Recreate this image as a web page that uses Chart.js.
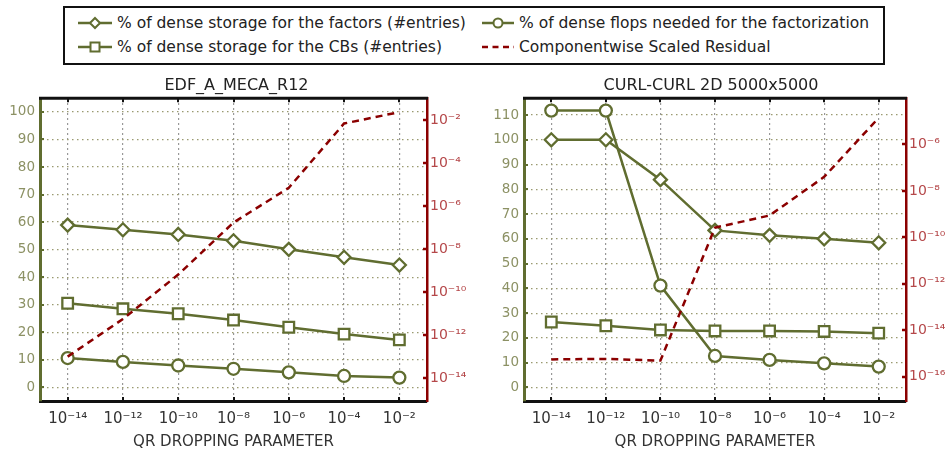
<!DOCTYPE html>
<html>
<head>
<meta charset="utf-8">
<script src="https://cdn.jsdelivr.net/npm/chart.js@4.4.1/dist/chart.umd.min.js"></script>
<style>
  body { margin: 0; background: #fff; width: 946px; height: 451px; position: relative; overflow: hidden; font-family: "DejaVu Sans", sans-serif; }
  #legendBox { position: absolute; left: 63px; top: 6px; width: 818px; height: 55px; border: 2px solid #111; }
  .item { position: absolute; height: 18px; display: flex; align-items: center; font-size: 15.5px; color: #222; white-space: nowrap; }
  .item svg { margin-right: 5px; }
  .wrap { position: absolute; top: 68px; height: 383px; }
</style>
</head>
<body>
<div id="legendBox"></div>
<div class="item" style="left:78px; top:14px">
  <svg width="34" height="14"><line x1="0" y1="7" x2="34" y2="7" stroke="#606d30" stroke-width="2.5"/><polygon points="17,2 22,7 17,12 12,7" fill="#fff" stroke="#606d30" stroke-width="2"/></svg>
  % of dense storage for the factors (#entries)
</div>
<div class="item" style="left:78px; top:38px">
  <svg width="34" height="14"><line x1="0" y1="7" x2="34" y2="7" stroke="#606d30" stroke-width="2.5"/><rect x="12.5" y="2.5" width="9" height="9" fill="#fff" stroke="#606d30" stroke-width="2"/></svg>
  % of dense storage for the CBs (#entries)
</div>
<div class="item" style="left:482px; top:14px">
  <svg width="32" height="14"><line x1="0" y1="7" x2="32" y2="7" stroke="#606d30" stroke-width="2.5"/><circle cx="16" cy="7" r="4.5" fill="#fff" stroke="#606d30" stroke-width="2"/></svg>
  % of dense flops needed for the factorization
</div>
<div class="item" style="left:482px; top:38px">
  <svg width="32" height="14"><line x1="0" y1="7" x2="32" y2="7" stroke="#8b0000" stroke-width="2.5" stroke-dasharray="6,4.5"/></svg>
  Componentwise Scaled Residual
</div>

<div class="wrap" style="left:0px; width:473px"><canvas id="chartEdf"></canvas></div>
<div class="wrap" style="left:476px; width:470px"><canvas id="chartCurl"></canvas></div>

<script>
// x categories (QR dropping parameter)
const labels = ['10⁻¹⁴', '10⁻¹²', '10⁻¹⁰', '10⁻⁸', '10⁻⁶', '10⁻⁴', '10⁻²'];

// EDF_A_MECA_R12
const edfFactors = [58.9, 57.2, 55.5, 53.2, 50.1, 47.2, 44.4];
const edfCBs = [30.5, 28.5, 26.7, 24.4, 21.8, 19.3, 17.2];
const edfFlops = [10.6, 9.2, 7.9, 6.7, 5.4, 4.1, 3.5];
const edfResidual = [1.0e-13, 5.6e-12, 6.5e-10, 1.7e-7, 7.0e-6, 6.8e-3, 2.3e-2];

// CURL-CURL 2D 5000x5000
const curlFactors = [100, 100, 83.9, 63.4, 61.4, 60.0, 58.4];
const curlCBs = [26.4, 24.9, 23.2, 22.8, 22.8, 22.6, 21.9];
const curlFlops = [111.8, 111.8, 41.1, 12.7, 11.1, 9.7, 8.4];
const curlResidual = [5.5e-16, 5.8e-16, 4.9e-16, 2.6e-10, 8.7e-10, 4.0e-8, 1.4e-5];

// tick values
const edfLeftTicks = [0, 10, 20, 30, 40, 50, 60, 70, 80, 90, 100];
const curlLeftTicks = [0, 10, 20, 30, 40, 50, 60, 70, 80, 90, 100, 110];
const edfLogTicks = [1e-14, 1e-12, 1e-10, 1e-8, 1e-6, 1e-4, 1e-2];
const curlLogTicks = [1e-16, 1e-14, 1e-12, 1e-10, 1e-8, 1e-6];

const olive = '#606d30';
const oliveText = '#8c9164';
const darkRed = '#8b0000';
const redText = '#b5484a';
const font = '"DejaVu Sans", sans-serif';

const sup = { '0': '⁰', '1': '¹', '2': '²', '3': '³', '4': '⁴', '5': '⁵', '6': '⁶', '7': '⁷', '8': '⁸', '9': '⁹', '-': '⁻' };
function powLabel(v) {
    const e = Math.round(Math.log10(v));
    return '10' + String(e).split('').map(c => sup[c]).join('');
}

// black top border and the small inner tick marks of all four sides
const frame = {
    id: 'frame',
    beforeDatasetsDraw(chart) {
        const { ctx, chartArea: a, scales } = chart;
        ctx.save();
        ctx.strokeStyle = '#111';
        ctx.lineWidth = 3;
        ctx.beginPath();
        ctx.moveTo(a.left - 1, a.top);
        ctx.lineTo(a.right + 1, a.top);
        ctx.stroke();
        ctx.lineWidth = 2;
        scales.x.ticks.forEach((t, i) => {
            const px = Math.round(scales.x.getPixelForTick(i));
            ctx.beginPath();
            ctx.moveTo(px, a.top); ctx.lineTo(px, a.top + 4);
            ctx.moveTo(px, a.bottom); ctx.lineTo(px, a.bottom - 4);
            ctx.stroke();
        });
        ctx.strokeStyle = olive;
        scales.y.ticks.forEach(t => {
            const py = Math.round(scales.y.getPixelForValue(t.value));
            ctx.beginPath(); ctx.moveTo(a.left, py); ctx.lineTo(a.left + 4, py); ctx.stroke();
        });
        ctx.strokeStyle = darkRed;
        ctx.lineWidth = 2.5;
        scales.y2.ticks.forEach(t => {
            const py = Math.round(scales.y2.getPixelForValue(t.value));
            ctx.beginPath(); ctx.moveTo(a.right - 4, py); ctx.lineTo(a.right, py); ctx.stroke();
        });
        ctx.restore();
    }
};

function olSet(label, data, style, radius) {
    return {
        label: label, data: data, yAxisID: 'y', order: 1,
        borderColor: olive, borderWidth: 2.5, tension: 0,
        pointStyle: style, pointRadius: radius, pointBorderWidth: 2.3,
        pointBackgroundColor: '#fff', pointBorderColor: olive
    };
}

function makeChart(id, title, factors, cbs, flops, residual, opt) {
    new Chart(document.getElementById(id), {
        type: 'line',
        data: {
            labels: labels,
            datasets: [
                olSet('factors', factors, 'rectRot', 6.5),
                olSet('CBs', cbs, 'rect', 7.5),
                olSet('flops', flops, 'circle', 6),
                {
                    label: 'residual', data: residual, yAxisID: 'y2', order: 0,
                    borderColor: darkRed, borderWidth: 2.5, borderDash: [7, 5],
                    pointRadius: 0, tension: 0
                }
            ]
        },
        options: {
            responsive: true,
            maintainAspectRatio: false,
            animation: false,
            layout: { padding: 0 },
            plugins: {
                legend: { display: false },
                tooltip: { enabled: false },
                title: {
                    display: true, text: title, color: '#222',
                    font: { family: font, size: 16, weight: 'normal' },
                    padding: { top: 8, bottom: 3 }
                }
            },
            scales: {
                x: {
                    offset: true,
                    grid: { offset: false, color: '#777', drawTicks: false, lineWidth: 1.2 },
                    border: { color: '#111', width: 3, dash: [1.5, 3.5] },
                    ticks: { color: '#333', padding: 9, font: { family: font, size: 15 } },
                    title: { display: true, text: 'QR DROPPING PARAMETER', color: '#333', font: { family: font, size: 15 }, padding: { top: 0, bottom: 0 } },
                    afterFit: s => { s.height = 50; }
                },
                y: {
                    position: 'left', min: opt.min, max: opt.max,
                    grid: { color: '#9a9a70', drawTicks: false, lineWidth: 1.2 },
                    border: { color: olive, width: 3, dash: [1.5, 3.5] },
                    ticks: { color: oliveText, padding: 5, font: { family: font, size: 13.5 } },
                    afterBuildTicks: s => { s.ticks = opt.leftTicks.map(v => ({ value: v })); },
                    afterFit: s => { s.width = opt.leftW; }
                },
                y2: {
                    type: 'logarithmic', position: 'right', min: opt.logMin, max: opt.logMax,
                    grid: { drawOnChartArea: false, drawTicks: false },
                    border: { color: darkRed, width: 2.5 },
                    ticks: { color: redText, padding: 3, font: { family: font, size: 14 }, callback: v => powLabel(v) },
                    afterBuildTicks: s => { s.ticks = opt.logTicks.map(v => ({ value: v })); },
                    afterFit: s => { s.width = opt.rightW; }
                }
            }
        },
        plugins: [frame]
    });
}

makeChart('chartEdf', 'EDF_A_MECA_R12', edfFactors, edfCBs, edfFlops, edfResidual, {
    min: -5, max: 105, leftTicks: edfLeftTicks, leftW: 40, rightW: 46,
    logMin: 8.7e-16, logMax: 1.02e-1, logTicks: edfLogTicks
});
makeChart('chartCurl', 'CURL-CURL 2D 5000x5000', curlFactors, curlCBs, curlFlops, curlResidual, {
    min: -5.5, max: 116.8, leftTicks: curlLeftTicks, leftW: 48, rightW: 40,
    logMin: 8.9e-18, logMax: 9.8e-5, logTicks: curlLogTicks
});
</script>
</body>
</html>
